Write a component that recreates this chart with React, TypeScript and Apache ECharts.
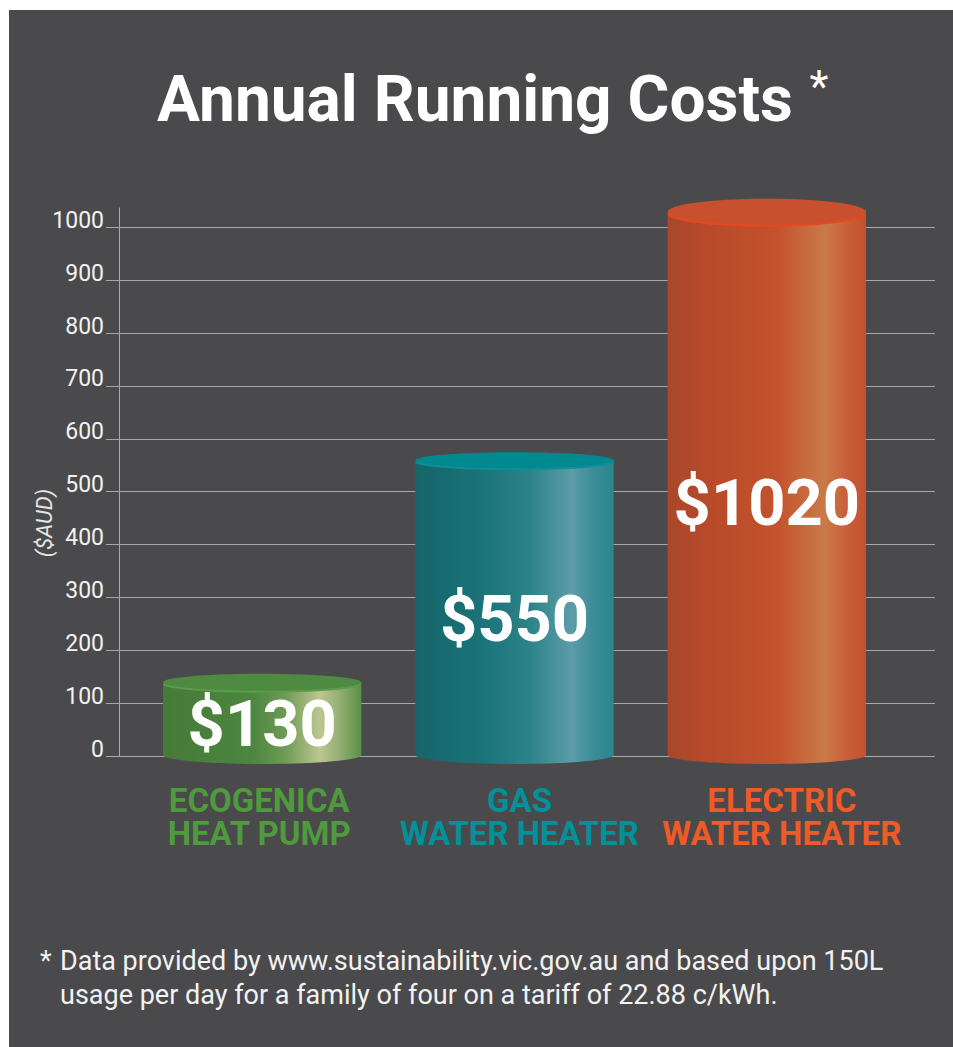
import React, { useEffect, useRef } from "react";
import * as echarts from "echarts";

// ---------- data ----------
const categories = ["ECOGENICA\nHEAT PUMP", "GAS\nWATER HEATER", "ELECTRIC\nWATER HEATER"];
const costs = [130, 550, 1020];
const valueLabels = ["$130", "$550", "$1020"];
const yMin = 0;
const yMax = 1000;
const yInterval = 100;
const titleText = "Annual Running Costs";
const axisName = "($AUD)";
const footnoteLines = [
  "Data provided by www.sustainability.vic.gov.au and based upon 150L",
  "usage per day for a family of four on a tariff of 22.88 c/kWh.",
];

// ---------- styles ----------
const labelColors = ["#4f9a3d", "#00919a", "#f05a26"];
const labelShift = [-6, 10, 30];
const barLooks = [
  {
    side: [
      [0, "#467a39"],
      [0.45, "#4c8640"],
      [0.62, "#6f9b56"],
      [0.79, "#bcc690"],
      [0.88, "#98b277"],
      [1, "#5a8f45"],
    ],
    cap: "#4e8a41",
    rim: "#5c9c4a",
    capRy: 8.5,
  },
  {
    side: [
      [0, "#16656a"],
      [0.35, "#1a7479"],
      [0.58, "#2d8389"],
      [0.79, "#5c9ca9"],
      [0.9, "#3a8c96"],
      [1, "#2a868f"],
    ],
    cap: "#008a8f",
    rim: "#0e8f94",
    capRy: 8,
  },
  {
    side: [
      [0, "#a9482a"],
      [0.22, "#b84a2a"],
      [0.55, "#c3522d"],
      [0.79, "#c97a49"],
      [0.9, "#c8603a"],
      [1, "#c4512e"],
    ],
    cap: "#c9502f",
    rim: "#e6491f",
    capRy: 13,
  },
];

export default function App() {
  const ref = useRef<HTMLDivElement>(null);

  useEffect(() => {
    if (!ref.current) return;
    const chart = echarts.init(ref.current, undefined, { renderer: "svg" });

    const gridTop = 227.3;
    const gridBottom = 291;

    const rich: Record<string, any> = {};
    labelColors.forEach((c, i) => {
      rich["c" + i] = {
        color: c,
        fontFamily: "Roboto",
        fontWeight: 700,
        fontSize: 33,
        lineHeight: 33,
        padding: labelShift[i] >= 0 ? [0, 0, 0, labelShift[i]] : [0, -labelShift[i], 0, 0],
      };
    });

    const option: any = {
      animation: false,
      backgroundColor: "#ffffff",
      grid: [
        { left: 106, right: 18, top: gridTop, bottom: gridBottom },
        { left: 119, right: 18, top: 208, bottom: gridBottom },
        { left: 136, right: 60, top: gridTop, bottom: gridBottom },
      ],
      xAxis: [
        { gridIndex: 0, type: "value", show: false },
        { gridIndex: 1, type: "value", show: false },
        {
          gridIndex: 2,
          type: "category",
          data: categories,
          axisLine: { show: false },
          axisTick: { show: false },
          axisLabel: {
            margin: 28,
            interval: 0,
            formatter: (v: string, i: number) =>
              v
                .split("\n")
                .map((line) => `{c${i}|${line}}`)
                .join("\n"),
            rich,
          },
        },
      ],
      yAxis: [
        {
          gridIndex: 0,
          type: "value",
          min: yMin,
          max: yMax,
          interval: yInterval,
          axisLine: { show: false },
          axisTick: { show: false },
          splitLine: { show: true, lineStyle: { color: "#a8a8a8", width: 1 } },
          axisLabel: {
            color: "#f2f2f2",
            fontFamily: "Roboto",
            fontSize: 23,
            margin: 2,
            verticalAlign: "bottom",
            lineHeight: 14,
            formatter: (v: number) => String(v),
          },
        },
        {
          gridIndex: 1,
          type: "value",
          min: 0,
          max: 1,
          axisLine: { show: true, lineStyle: { color: "#a8a8a8", width: 1 } },
          axisTick: { show: false },
          axisLabel: { show: false },
          splitLine: { show: false },
        },
        {
          gridIndex: 2,
          type: "value",
          min: yMin,
          max: yMax,
          show: false,
          splitLine: { show: false },
        },
      ],
      graphic: [
        {
          type: "rect",
          z: -100,
          shape: { x: 9, y: 10, width: 944, height: 1037 },
          style: { fill: "#4a4a4c" },
        },
        {
          type: "text",
          x: 475,
          y: 99,
          style: {
            text: titleText,
            fill: "#ffffff",
            font: "700 64px Roboto",
            align: "center",
            verticalAlign: "middle",
          },
        },
        {
          type: "text",
          x: 819,
          y: 87,
          style: {
            text: "*",
            fill: "#ffffff",
            font: "400 44px Roboto",
            align: "center",
            verticalAlign: "middle",
          },
        },
        {
          type: "text",
          x: 44,
          y: 523,
          rotation: Math.PI / 2,
          style: {
            text: axisName,
            fill: "#e6e6e6",
            font: "italic 400 22px Roboto",
            align: "center",
            verticalAlign: "middle",
          },
        },
        {
          type: "text",
          x: 40,
          y: 961,
          style: {
            text: "*",
            fill: "#f2f2f2",
            font: "400 27px Roboto",
            align: "left",
            verticalAlign: "middle",
          },
        },
        ...footnoteLines.map((line, i) => ({
          type: "text",
          x: 60,
          y: 961 + i * 34,
          style: {
            text: line,
            fill: "#f2f2f2",
            font: "400 27px Roboto",
            align: "left",
            verticalAlign: "middle",
          },
        })),
      ],
      series: [
        {
          type: "custom",
          xAxisIndex: 2,
          yAxisIndex: 2,
          data: costs.map((v, i) => [i, v]),
          encode: { x: 0, y: 1 },
          renderItem: (params: any, api: any) => {
            const idx = api.value(0);
            const val = api.value(1);
            const top = api.coord([idx, val]);
            const base = api.coord([idx, 0]);
            const band = api.size([1, 0])[0];
            const w = band * 0.786;
            const look = barLooks[params.dataIndex];
            const cx = top[0];
            const ty = top[1] - 5;
            const by = base[1] - 1;
            const x0 = cx - w / 2;
            const grad = new echarts.graphic.LinearGradient(
              0,
              0,
              1,
              0,
              look.side.map(([o, c]) => ({ offset: o as number, color: c as string }))
            );
            const labelY = api.coord([idx, val * 0.47])[1];
            return {
              type: "group",
              children: [
                {
                  type: "ellipse",
                  shape: { cx, cy: by, rx: w / 2, ry: 9 },
                  style: { fill: grad },
                },
                {
                  type: "rect",
                  shape: { x: x0, y: ty, width: w, height: by - ty },
                  style: { fill: grad },
                },
                {
                  type: "ellipse",
                  shape: { cx, cy: ty + 2, rx: w / 2, ry: look.capRy },
                  style: { fill: look.rim },
                },
                {
                  type: "ellipse",
                  shape: { cx, cy: ty, rx: w / 2, ry: look.capRy },
                  style: { fill: look.cap },
                },
                {
                  type: "text",
                  x: cx,
                  y: labelY,
                  style: {
                    text: valueLabels[params.dataIndex],
                    fill: "#ffffff",
                    font: "700 65px Roboto",
                    align: "center",
                    verticalAlign: "middle",
                  },
                },
              ],
            };
          },
        },
      ],
    };

    chart.setOption(option);
    return () => chart.dispose();
  }, []);

  return (
    <div
      ref={ref}
      style={{ position: "absolute", left: 0, top: 0, width: 953, height: 1047 }}
    />
  );
}
